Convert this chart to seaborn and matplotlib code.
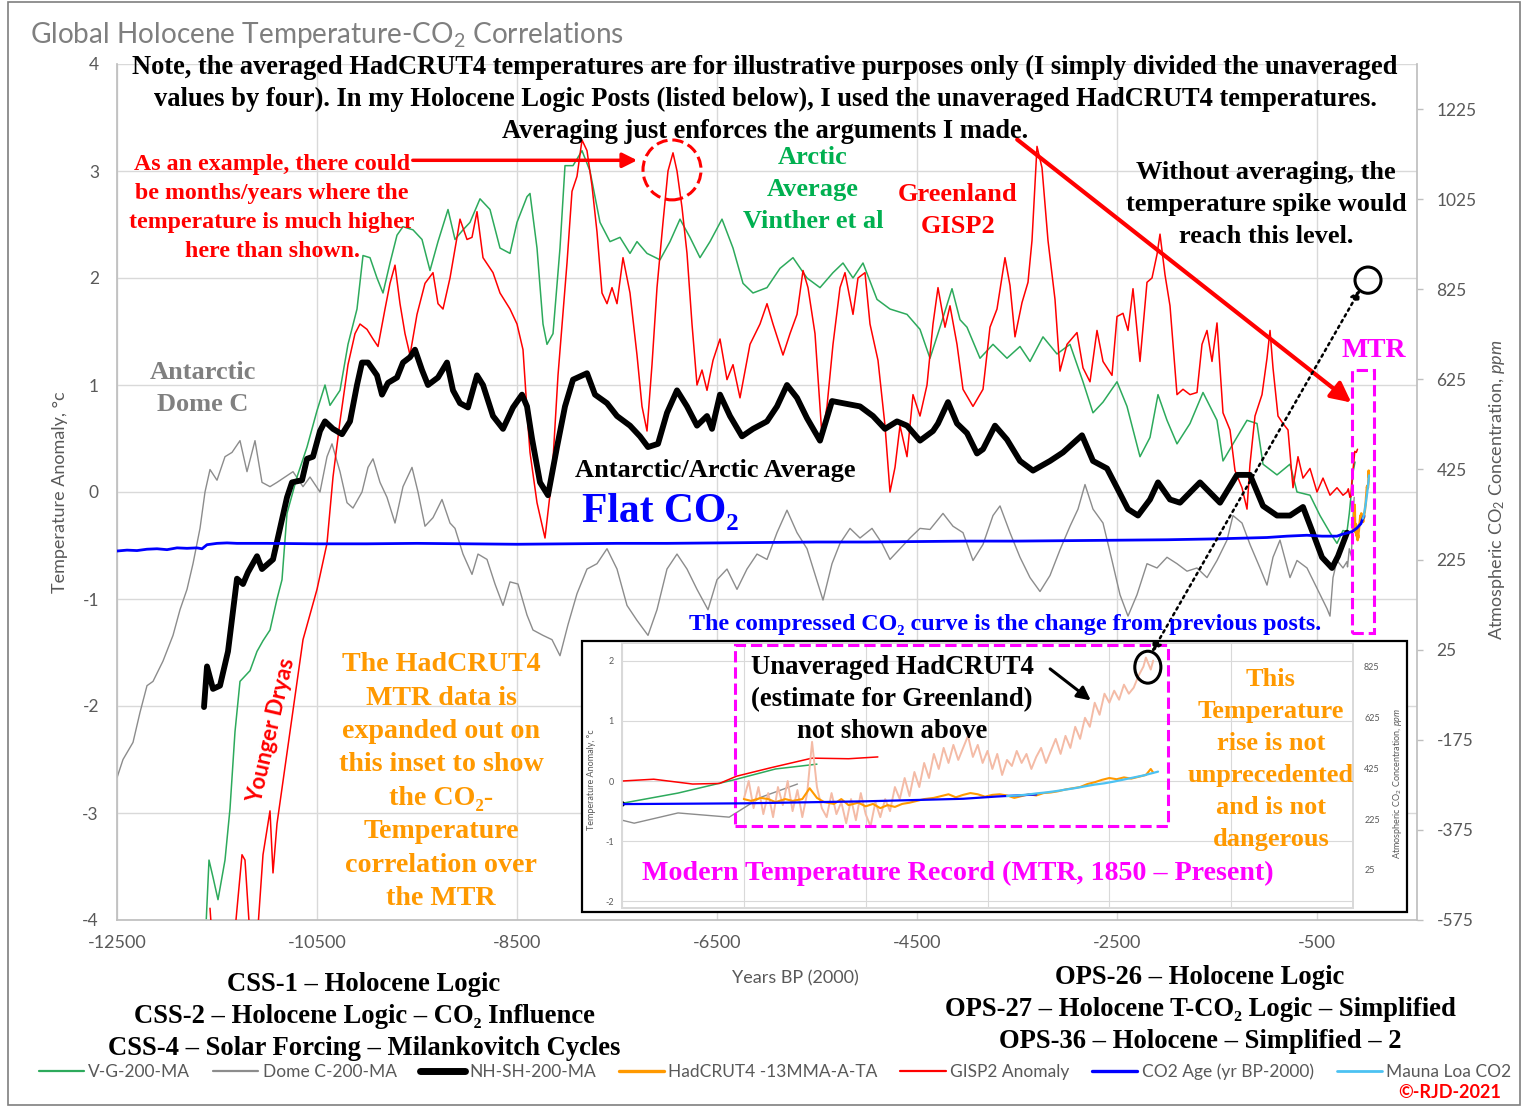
#Holocene temperature / CO2 chart with the MTR inset
import matplotlib
matplotlib.use('Agg')
import matplotlib.pyplot as plt
import numpy as np
import seaborn as sb
from matplotlib.lines import Line2D
from matplotlib.patches import Rectangle, Ellipse, ConnectionPatch

W, H = 1524, 1109

#Series: (years BP(2000), value)
vinther = [(-11610, -4.05), (-11580, -3.44), (-11540, -3.6), (-11490, -3.81), (-11420, -3.44), (-11370, -2.96),
           (-11320, -2.24), (-11270, -1.77), (-11170, -1.67), (-11100, -1.49), (-11040, -1.39), (-10970, -1.29),
           (-10900, -1.0), (-10850, -0.82), (-10800, -0.2), (-10700, 0.14), (-10600, 0.42), (-10500, 0.76),
           (-10420, 1.0), (-10370, 0.81), (-10270, 0.95), (-10190, 1.38), (-10100, 1.71), (-10040, 2.21),
           (-9970, 2.19), (-9900, 2.0), (-9840, 1.86), (-9770, 2.14), (-9700, 2.4), (-9640, 2.48), (-9540, 2.45),
           (-9450, 2.36), (-9370, 2.07), (-9290, 2.34), (-9190, 2.64), (-9120, 2.36), (-9040, 2.45), (-8970, 2.52),
           (-8870, 2.74), (-8770, 2.64), (-8670, 2.28), (-8570, 2.23), (-8500, 2.52), (-8400, 2.76), (-8370, 2.79),
           (-8300, 2.28), (-8240, 1.57), (-8200, 1.38), (-8140, 1.48), (-8070, 2.28), (-8020, 3.05), (-7940, 3.05),
           (-7850, 3.19), (-7770, 3.0), (-7670, 2.52), (-7570, 2.34), (-7470, 2.38), (-7370, 2.23), (-7300, 2.34),
           (-7200, 2.23), (-7070, 2.17), (-6970, 2.34), (-6870, 2.55), (-6770, 2.38), (-6670, 2.19), (-6570, 2.34),
           (-6450, 2.55), (-6340, 2.28), (-6240, 1.95), (-6140, 1.86), (-6000, 1.91), (-5870, 2.09), (-5740, 2.19),
           (-5600, 2.0), (-5470, 1.91), (-5340, 2.05), (-5240, 2.14), (-5140, 2.0), (-5040, 2.14), (-4900, 1.8),
           (-4770, 1.71), (-4600, 1.66), (-4470, 1.52), (-4370, 1.25), (-4270, 1.54), (-4150, 1.9), (-4070, 1.61),
           (-4000, 1.54), (-3870, 1.25), (-3740, 1.38), (-3600, 1.25), (-3470, 1.36), (-3370, 1.22), (-3240, 1.45),
           (-3100, 1.29), (-2970, 1.38), (-2840, 1.03), (-2740, 0.74), (-2640, 0.84), (-2500, 1.03), (-2400, 0.8),
           (-2270, 0.33), (-2170, 0.51), (-2090, 0.91), (-2000, 0.67), (-1900, 0.45), (-1770, 0.64), (-1640, 0.93),
           (-1500, 0.67), (-1440, 0.29), (-1340, 0.45), (-1200, 0.67), (-1100, 0.64), (-1040, 0.26), (-900, 0.16),
           (-770, 0.26), (-700, 0.0), (-570, -0.03), (-470, -0.22), (-370, -0.38), (-300, -0.48), (-240, -0.36),
           (-200, -0.37), (-177, -0.2), (-154, 0.02), (-137, 0.2), (-120, 0.28)]

domec = [(-12500, -2.67), (-12440, -2.5), (-12340, -2.34), (-12270, -2.06), (-12200, -1.81), (-12140, -1.77),
         (-12040, -1.58), (-11940, -1.34), (-11870, -1.1), (-11800, -0.91), (-11740, -0.67), (-11670, -0.34),
         (-11620, 0.0), (-11570, 0.21), (-11500, 0.11), (-11420, 0.33), (-11350, 0.37), (-11270, 0.48),
         (-11200, 0.19), (-11120, 0.48), (-11050, 0.09), (-10970, 0.05), (-10900, 0.09), (-10820, 0.14),
         (-10740, 0.19), (-10640, 0.05), (-10570, 0.14), (-10470, 0.0), (-10400, 0.33), (-10350, 0.45),
         (-10270, 0.19), (-10200, -0.1), (-10140, -0.15), (-10050, 0.0), (-9990, 0.23), (-9940, 0.31),
         (-9870, 0.09), (-9800, -0.05), (-9720, -0.29), (-9640, 0.05), (-9550, 0.23), (-9490, 0.0), (-9420, -0.32),
         (-9340, -0.24), (-9250, -0.07), (-9170, -0.29), (-9120, -0.34), (-9040, -0.58), (-8950, -0.77),
         (-8890, -0.58), (-8800, -0.63), (-8720, -0.86), (-8640, -1.06), (-8570, -0.84), (-8490, -0.86),
         (-8400, -1.15), (-8340, -1.29), (-8240, -1.34), (-8150, -1.38), (-8070, -1.53), (-7990, -1.24),
         (-7900, -0.95), (-7800, -0.72), (-7700, -0.67), (-7600, -0.53), (-7500, -0.72), (-7400, -1.06),
         (-7300, -1.2), (-7190, -1.34), (-7100, -1.1), (-7000, -0.72), (-6900, -0.58), (-6800, -0.72),
         (-6700, -0.91), (-6590, -1.1), (-6500, -0.82), (-6400, -0.72), (-6300, -0.91), (-6200, -0.72),
         (-6100, -0.58), (-6000, -0.63), (-5900, -0.38), (-5800, -0.17), (-5700, -0.38), (-5600, -0.53),
         (-5520, -0.77), (-5440, -1.01), (-5350, -0.67), (-5270, -0.48), (-5170, -0.34), (-5070, -0.43),
         (-4950, -0.34), (-4850, -0.48), (-4770, -0.63), (-4670, -0.53), (-4570, -0.43), (-4470, -0.34),
         (-4370, -0.35), (-4240, -0.2), (-4140, -0.32), (-4040, -0.38), (-3940, -0.64), (-3840, -0.49),
         (-3740, -0.22), (-3670, -0.13), (-3570, -0.38), (-3470, -0.61), (-3370, -0.8), (-3270, -0.93),
         (-3170, -0.78), (-3070, -0.54), (-2970, -0.32), (-2890, -0.16), (-2820, 0.07), (-2740, -0.16),
         (-2640, -0.29), (-2550, -0.64), (-2470, -0.96), (-2390, -1.16), (-2300, -0.96), (-2200, -0.67),
         (-2100, -0.71), (-2000, -0.61), (-1900, -0.67), (-1800, -0.74), (-1700, -0.71), (-1600, -0.8),
         (-1500, -0.64), (-1400, -0.45), (-1340, -0.22), (-1250, -0.29), (-1170, -0.49), (-1070, -0.71),
         (-1000, -0.87), (-940, -0.61), (-870, -0.45), (-770, -0.8), (-700, -0.64), (-600, -0.71), (-500, -0.9),
         (-400, -1.09), (-370, -1.16), (-340, -0.8), (-300, -0.64), (-240, -0.71), (-200, -0.65), (-195, -0.7),
         (-177, -0.53), (-156, -0.6), (-143, -0.27), (-128, -0.05)]

nhsh = [(-11630, -2.01), (-11600, -1.63), (-11540, -1.84), (-11470, -1.81), (-11390, -1.49), (-11300, -0.81),
        (-11240, -0.86), (-11190, -0.75), (-11100, -0.6), (-11050, -0.72), (-10940, -0.63), (-10870, -0.34),
        (-10800, -0.05), (-10750, 0.09), (-10650, 0.11), (-10600, 0.31), (-10540, 0.33), (-10470, 0.57),
        (-10420, 0.66), (-10340, 0.59), (-10250, 0.54), (-10170, 0.66), (-10100, 1.0), (-10050, 1.21),
        (-9990, 1.21), (-9900, 1.09), (-9850, 0.91), (-9790, 1.02), (-9700, 1.07), (-9640, 1.21), (-9570, 1.26),
        (-9520, 1.33), (-9450, 1.14), (-9390, 1.0), (-9290, 1.07), (-9200, 1.21), (-9140, 0.95), (-9070, 0.83),
        (-8990, 0.79), (-8900, 1.09), (-8840, 1.0), (-8740, 0.71), (-8640, 0.59), (-8540, 0.79), (-8450, 0.91),
        (-8400, 0.8), (-8350, 0.5), (-8270, 0.09), (-8190, -0.03), (-8100, 0.42), (-8020, 0.8), (-7940, 1.05),
        (-7800, 1.11), (-7720, 0.91), (-7600, 0.83), (-7500, 0.71), (-7370, 0.62), (-7270, 0.52), (-7190, 0.42),
        (-7090, 0.45), (-7000, 0.74), (-6900, 0.95), (-6800, 0.8), (-6700, 0.62), (-6600, 0.71), (-6550, 0.59),
        (-6470, 0.91), (-6370, 0.71), (-6250, 0.52), (-6140, 0.59), (-6000, 0.66), (-5900, 0.8), (-5800, 1.0),
        (-5700, 0.88), (-5600, 0.69), (-5470, 0.48), (-5350, 0.85), (-5240, 0.83), (-5070, 0.8), (-4940, 0.71),
        (-4820, 0.59), (-4700, 0.66), (-4600, 0.62), (-4470, 0.48), (-4340, 0.57), (-4290, 0.64), (-4190, 0.84),
        (-4100, 0.64), (-4000, 0.55), (-3900, 0.36), (-3840, 0.4), (-3720, 0.62), (-3600, 0.49), (-3470, 0.29),
        (-3340, 0.2), (-3170, 0.29), (-3040, 0.37), (-2850, 0.53), (-2740, 0.29), (-2600, 0.22), (-2500, 0.04),
        (-2390, -0.16), (-2290, -0.22), (-2170, -0.07), (-2090, 0.09), (-1970, -0.07), (-1870, -0.1),
        (-1670, 0.09), (-1470, -0.1), (-1300, 0.16), (-1170, 0.16), (-1040, -0.13), (-900, -0.22), (-770, -0.22),
        (-640, -0.14), (-550, -0.36), (-450, -0.61), (-350, -0.71), (-290, -0.6), (-200, -0.38)]

gisp2 = [(-11570, -3.89), (-11540, -4.3), (-11480, -4.4), (-11420, -4.3), (-11330, -4.2), (-11250, -3.39),
         (-11220, -3.44), (-11190, -3.87), (-11160, -4.3), (-11100, -4.2), (-11040, -3.39), (-10970, -2.98),
         (-10940, -3.56), (-10900, -3.1), (-10770, -2.24), (-10640, -1.38), (-10500, -0.91), (-10400, -0.48),
         (-10340, 0.14), (-10270, 0.66), (-10190, 1.19), (-10120, 1.48), (-10070, 1.57), (-10000, 1.52),
         (-9940, 1.43), (-9890, 1.36), (-9820, 1.71), (-9770, 1.95), (-9720, 2.12), (-9670, 1.76), (-9620, 1.48),
         (-9570, 1.28), (-9500, 1.66), (-9420, 1.95), (-9340, 2.05), (-9290, 1.76), (-9240, 1.71), (-9170, 2.0),
         (-9100, 2.38), (-9070, 2.55), (-9000, 2.36), (-8950, 2.38), (-8900, 2.62), (-8840, 2.19), (-8740, 2.05),
         (-8670, 1.86), (-8570, 1.71), (-8500, 1.57), (-8440, 1.33), (-8390, 0.62), (-8370, 0.37), (-8300, -0.1),
         (-8220, -0.43), (-8150, 0.14), (-8090, 1.09), (-8000, 2.14), (-7950, 2.81), (-7900, 2.95), (-7850, 3.29),
         (-7800, 3.19), (-7750, 2.86), (-7700, 2.43), (-7650, 1.86), (-7600, 1.76), (-7550, 1.91), (-7500, 1.76),
         (-7440, 2.19), (-7370, 1.86), (-7300, 1.28), (-7250, 0.8), (-7200, 0.57), (-7150, 1.19), (-7100, 1.91),
         (-7040, 2.52), (-6990, 3.0), (-6940, 3.17), (-6900, 3.0), (-6850, 2.66), (-6800, 2.23), (-6750, 1.57),
         (-6700, 1.0), (-6650, 1.14), (-6600, 0.95), (-6540, 1.23), (-6470, 1.43), (-6400, 1.05), (-6340, 1.19),
         (-6270, 0.88), (-6170, 1.38), (-6070, 1.57), (-6000, 1.76), (-5940, 1.57), (-5840, 1.28), (-5770, 1.48),
         (-5700, 1.66), (-5640, 2.07), (-5590, 1.91), (-5520, 1.48), (-5450, 0.52), (-5400, 0.8), (-5340, 1.38),
         (-5270, 1.91), (-5220, 2.05), (-5140, 1.66), (-5090, 2.0), (-5020, 2.05), (-4970, 1.57), (-4890, 1.23),
         (-4820, 0.62), (-4770, 0.0), (-4720, 0.23), (-4670, 0.62), (-4600, 0.33), (-4540, 0.91), (-4470, 0.71),
         (-4400, 1.0), (-4340, 1.57), (-4290, 1.91), (-4220, 1.54), (-4170, 1.74), (-4100, 1.38), (-4040, 0.96),
         (-3940, 0.8), (-3840, 0.96), (-3770, 1.54), (-3700, 1.71), (-3620, 2.19), (-3570, 1.93), (-3520, 1.45),
         (-3450, 1.77), (-3390, 1.96), (-3350, 2.35), (-3300, 3.23), (-3250, 3.03), (-3190, 2.35), (-3120, 1.8),
         (-3070, 1.13), (-3000, 1.38), (-2900, 1.49), (-2840, 1.16), (-2770, 1.03), (-2700, 1.51), (-2640, 1.22),
         (-2550, 1.09), (-2500, 1.64), (-2440, 1.67), (-2390, 1.51), (-2340, 1.9), (-2270, 1.22), (-2200, 1.96),
         (-2150, 2.0), (-2100, 2.22), (-2070, 2.41), (-2020, 2.03), (-1970, 1.74), (-1900, 0.91), (-1840, 0.96),
         (-1770, 0.91), (-1700, 0.93), (-1650, 1.38), (-1600, 1.51), (-1550, 1.22), (-1500, 1.58), (-1440, 0.74),
         (-1370, 0.58), (-1320, 0.2), (-1250, 0.04), (-1200, -0.16), (-1170, 0.26), (-1120, 0.71), (-1050, 0.91),
         (-1000, 1.25), (-970, 1.51), (-940, 1.16), (-890, 0.71), (-840, 0.64), (-790, 0.58), (-740, 0.04),
         (-690, 0.33), (-640, 0.13), (-570, 0.22), (-500, 0.0), (-440, 0.13), (-370, -0.03), (-300, 0.04),
         (-240, -0.03), (-200, 0.0), (-187, 0.03), (-171, -0.05), (-160, -0.04), (-153, 0.08), (-139, 0.22),
         (-122, 0.38), (-107, 0.37), (-95, 0.4)]

hadcrut_avg = [(-150, -0.3), (-147, -0.33), (-143, -0.28), (-140, -0.3), (-137, -0.35), (-133, -0.3), (-130, -0.33),
               (-126, -0.3), (-123, -0.12), (-120, -0.28), (-117, -0.35), (-113, -0.38), (-110, -0.3), (-107, -0.4),
               (-103, -0.36), (-100, -0.42), (-97, -0.38), (-94, -0.45), (-91, -0.4), (-88, -0.43), (-85, -0.38),
               (-82, -0.36), (-79, -0.33), (-76, -0.3), (-72, -0.28), (-69, -0.25), (-66, -0.22), (-63, -0.27),
               (-60, -0.23), (-57, -0.2), (-54, -0.22), (-51, -0.26), (-48, -0.23), (-45, -0.22), (-42, -0.24),
               (-39, -0.28), (-36, -0.25), (-33, -0.22), (-30, -0.24), (-27, -0.2), (-24, -0.19), (-21, -0.17),
               (-18, -0.14), (-15, -0.12), (-12, -0.1), (-9, -0.05), (-6, -0.02), (-3, 0.02), (0, 0.05), (3, 0.03),
               (6, 0.06), (9, 0.04), (12, 0.07), (15, 0.1), (17, 0.2), (18, 0.14)]

hadcrut_raw = [(-150, -0.3), (-148, 0.0), (-146, -0.45), (-144, -0.1), (-142, -0.55), (-140, -0.2), (-138, -0.6),
               (-136, -0.1), (-134, -0.4), (-132, 0.0), (-130, -0.5), (-128, -0.15), (-126, -0.6), (-124, -0.2),
               (-122, 0.65), (-120, -0.1), (-118, -0.45), (-116, -0.6), (-114, -0.2), (-112, -0.55), (-110, -0.35),
               (-108, -0.7), (-106, -0.3), (-104, -0.65), (-102, -0.2), (-100, -0.55), (-98, -0.75), (-96, -0.35),
               (-94, -0.6), (-92, -0.3), (-90, -0.5), (-88, -0.1), (-86, -0.3), (-84, 0.05), (-82, -0.25),
               (-80, 0.15), (-78, -0.1), (-76, 0.3), (-74, 0.05), (-72, 0.45), (-70, 0.2), (-68, 0.55), (-66, 0.3),
               (-64, 0.6), (-62, 0.35), (-60, 0.55), (-58, 0.75), (-56, 0.4), (-54, 0.6), (-52, 0.3), (-50, 0.5),
               (-48, 0.2), (-46, 0.45), (-44, 0.1), (-42, 0.35), (-40, 0.25), (-38, 0.5), (-36, 0.3), (-34, 0.45),
               (-32, 0.2), (-30, 0.4), (-28, 0.55), (-26, 0.3), (-24, 0.5), (-22, 0.7), (-20, 0.45), (-18, 0.75),
               (-16, 0.55), (-14, 0.9), (-12, 0.7), (-10, 1.05), (-8, 0.9), (-6, 1.3), (-4, 1.1), (-2, 1.45),
               (0, 1.3), (2, 1.5), (4, 1.35), (6, 1.6), (8, 1.45), (10, 1.55), (12, 1.75), (14, 1.9), (15, 2.05),
               (17, 1.85), (18, 2.0)]

co2_age = [(-12500, 244), (-12400, 246), (-12300, 245), (-12200, 248), (-12100, 249), (-12000, 247), (-11900, 251),
           (-11800, 250), (-11700, 251), (-11650, 249), (-11600, 258), (-11500, 261), (-11400, 262), (-11300, 261),
           (-11000, 261), (-10500, 260), (-10000, 260), (-9500, 261), (-9000, 260), (-8500, 259), (-8000, 260),
           (-7500, 261), (-7000, 261), (-6500, 262), (-6000, 263), (-5500, 264), (-5000, 264), (-4500, 265),
           (-4000, 266), (-3500, 266), (-3000, 267), (-2500, 268), (-2000, 269), (-1500, 271), (-1000, 274),
           (-800, 277), (-600, 279), (-450, 277), (-300, 277), (-250, 281), (-200, 284), (-150, 287), (-100, 295),
           (-60, 305), (-46, 314), (-30, 322)]

mauna_loa = [(-42, 316), (-38, 318), (-34, 321), (-30, 326), (-26, 330), (-22, 335), (-18, 341), (-14, 347),
             (-10, 354), (-6, 361), (-2, 366), (2, 373), (6, 381), (10, 389), (14, 397), (18, 407), (20, 412)]

legend_labels = ['V-G-200-MA', 'Dome C-200-MA', 'NH-SH-200-MA', 'HadCRUT4 -13MMA-A-TA',
                 'GISP2 Anomaly', 'CO2 Age (yr BP-2000)', 'Mauna Loa CO2']
temp_ticks = [-4, -3, -2, -1, 0, 1, 2, 3, 4]
co2_ticks = [-575, -375, -175, 25, 225, 425, 625, 825, 1025, 1225]

C_GREEN, C_GRAY, C_RED = '#2DAA5C', '#8C8C8C', '#FF0000'
C_ORANGE, C_BLUE, C_LBLUE, C_SALMON = '#FF9900', '#0000FF', '#4CC2F2', '#F4BBA6'
TXT = '#595959'
SERIF = ['Liberation Serif', 'DejaVu Serif']

sb.set_theme(style='whitegrid')
plt.rcParams['font.family'] = ['Lato', 'DejaVu Sans']
plt.rcParams['axes.unicode_minus'] = False
plt.rcParams['mathtext.fontset'] = 'custom'
plt.rcParams['mathtext.rm'] = 'Lato'
plt.rcParams['mathtext.it'] = 'Lato:italic'
plt.rcParams['mathtext.bf'] = 'Lato:bold'

def xy(pairs):
    a = np.array(pairs, dtype=float)
    return a[:, 0], a[:, 1]

# ppm = 375 + 237.5 * temperature keeps both axes lined up
def to_ppm(t):
    return 375 + 237.5 * t

def draw_series(axt, axc, main=True):
    for data, col, lw, z in [(domec, C_GRAY, 1.0, 1), (vinther, C_GREEN, 1.1, 2), (gisp2, C_RED, 1.1, 3)]:
        x, y = xy(data)
        sb.lineplot(x=x, y=y, ax=axt, color=col, lw=lw, zorder=z, legend=False)
    if not main:
        x, y = xy(hadcrut_raw)
        sb.lineplot(x=x, y=y, ax=axt, color=C_SALMON, lw=1.4, zorder=4, legend=False)
    x, y = xy(nhsh)
    sb.lineplot(x=x, y=y, ax=axt, color='black', lw=4.2, zorder=5, legend=False)
    x, y = xy(hadcrut_avg)
    sb.lineplot(x=x, y=y, ax=axt, color=C_ORANGE, lw=1.8 if main else 1.5, zorder=6, legend=False)
    x, y = xy(co2_age)
    sb.lineplot(x=x, y=y, ax=axc, color=C_BLUE, lw=2.0 if main else 1.6, zorder=2, legend=False)
    x, y = xy(mauna_loa)
    sb.lineplot(x=x, y=y, ax=axc, color=C_LBLUE, lw=1.6, zorder=3, legend=False)

fig = plt.figure(figsize=(W / 100, H / 100), dpi=100)

#Main chart
ax = fig.add_axes([117 / W, 1 - 920 / H, 1300 / W, 856 / H])
ax2 = ax.twinx()
ax.set_zorder(0)
ax2.set_zorder(0.1)
draw_series(ax, ax2, main=True)
ax.set_xlim(-12500, 500)
ax.set_ylim(-4, 4)
ax2.set_ylim(to_ppm(-4), to_ppm(4))
ax.set_xticks(np.arange(-12500, 0, 2000))
ax.set_yticks(temp_ticks)
ax2.set_yticks(co2_ticks)
ax.grid(True, color='#D9D9D9', lw=1)
ax2.grid(False)
ax.set_xlabel('')
ax.set_ylabel('')
ax.tick_params(axis='x', length=0, labelsize=13, labelcolor=TXT, pad=11)
ax.tick_params(axis='y', length=0, labelsize=12.5, labelcolor=TXT, pad=13)
ax2.tick_params(axis='y', length=4, width=1, color='#BFBFBF', direction='out', labelsize=12.5,
                labelcolor=TXT, pad=10)
for s in ['top', 'right']:
    ax.spines[s].set_visible(False)
for s in ['left', 'bottom']:
    ax.spines[s].set_color('#BFBFBF')
for s in ['top', 'left', 'bottom']:
    ax2.spines[s].set_visible(False)
ax2.spines['right'].set_color('#BFBFBF')

#Inset with the modern record
box = Rectangle((582 / W, 1 - 912 / H), 825 / W, 271 / H, transform=fig.transFigure,
                facecolor='white', edgecolor='black', lw=1.6, zorder=1.5)
fig.add_artist(box)
axi = fig.add_axes([622 / W, 1 - 907.5 / H, 731 / W, 265 / H])
axi.set_zorder(2)
axi2 = axi.twinx()
axi2.set_zorder(2.1)
draw_series(axi, axi2, main=False)
axi.set_xlim(-200, 100)
axi.set_ylim(-2.1, 2.3)
axi2.set_ylim(to_ppm(-2.1), to_ppm(2.3))
axi.set_xticks(np.arange(-200, 101, 50))
axi.set_xticklabels([])
axi.set_yticks([-2, -1, 0, 1, 2])
axi2.set_yticks([25, 225, 425, 625, 825])
axi.grid(True, color='#D9D9D9', lw=0.8)
axi2.grid(False)
axi.set_ylabel('')
axi.tick_params(axis='both', length=0, labelsize=6.5, labelcolor=TXT, pad=6)
axi2.tick_params(axis='y', length=0, labelsize=6.5, labelcolor=TXT, pad=8)
for a in (axi, axi2):
    for s in a.spines.values():
        s.set_color('#D9D9D9')

#Marks tied to the data
gx, gy = xy(gisp2)
win = (gx > -7100) & (gx < -6800)
spike_x, spike_y = gx[win][np.argmax(gy[win])], gy[win].max()
rx, ry = xy(hadcrut_raw)
peak_x, peak_y = rx[np.argmax(ry)], ry.max()

ax.add_patch(Ellipse((spike_x - 10, spike_y - 0.16), 580, 0.56, fill=False, ec=C_RED, ls='--', lw=2.2, zorder=8))
ax.annotate('', xy=(spike_x - 330, 3.1), xytext=(-9570, 3.1),
            arrowprops=dict(arrowstyle='-|>', color=C_RED, lw=2.5, mutation_scale=22), zorder=8)
ax.annotate('', xy=(-135, 0.82), xytext=(-3520, 3.31), annotation_clip=False,
            arrowprops=dict(arrowstyle='-|>', color=C_RED, lw=3, mutation_scale=30), zorder=8)
ax.add_patch(Ellipse((peak_x - 5, peak_y - 0.07), 260, 0.245, fill=False, ec='black', lw=2.2,
                     zorder=8, clip_on=False))
ax.add_patch(Rectangle((-150, -1.32), 220, 2.46, fill=False, ec='#FF00FF', ls='--', lw=2.2,
                       zorder=8, clip_on=False))
axi.add_patch(Ellipse((peak_x + 0.8, peak_y - 0.16), 10.7, 0.53, fill=False, ec='black', lw=2.2,
                      zorder=8, clip_on=False))
axi.add_patch(Rectangle((-153.6, -0.75), 177.6, 3.01, fill=False, ec='#FF00FF', ls='--', lw=2.2,
                        zorder=8, clip_on=False))
axi.annotate('', xy=(-6.7, 1.31), xytext=(-25.2, 1.89),
             arrowprops=dict(arrowstyle='-|>', color='black', lw=2.2, mutation_scale=20), zorder=8)
con = ConnectionPatch(xyA=(peak_x + 2.5, 2.14), coordsA=axi.transData, xyB=(-70, 1.89), coordsB=ax.transData,
                      arrowstyle='<|-|>', ls=':', lw=1.8, color='black', mutation_scale=14, zorder=9)
fig.add_artist(con)

#Text
def put(x, y, s, **kw):
    return fig.text(x / W, 1 - y / H, s, **kw)

def rows(x, y0, step, lines, color='black', size=19):
    base = 0.33 * size / 0.72
    for i, s in enumerate(lines):
        put(x, y0 + i * step + base, s, color=color, fontsize=size, family=SERIF, fontweight='bold',
            ha='center', va='baseline', zorder=10)

put(30, 35, r'Global Holocene Temperature-CO$_2$ Correlations', fontsize=20.2, color='#7F7F7F', va='center')
rows(765, 65, 32, ['Note, the averaged HadCRUT4 temperatures are for illustrative purposes only (I simply divided the unaveraged',
                   'values by four). In my Holocene Logic Posts (listed below), I used the unaveraged HadCRUT4 temperatures.',
                   'Averaging just enforces the arguments I made.'], size=19.1)
rows(272, 162, 29, ['As an example, there could', 'be months/years where the', 'temperature is much higher',
                    'here than shown.'], color=C_RED, size=17.2)
rows(813, 155, 32, ['Arctic', 'Average', 'Vinther et al'], color='#00B050')
rows(958, 192, 32, ['Greenland', 'GISP2'], color=C_RED)
rows(1266, 170, 32, ['Without averaging, the', 'temperature spike would', 'reach this level.'])
rows(1374, 348, 0, ['MTR'], color='#FF00FF', size=20)
rows(203, 370, 32, ['Antarctic', 'Dome C'], color='#808080')
rows(715, 468, 0, ['Antarctic/Arctic Average'])
rows(660, 508, 0, ['Flat CO₂'], color=C_BLUE, size=30)
rows(1005, 622, 0, ['The compressed CO₂ curve is the change from previous posts.'], color=C_BLUE, size=17.3)
rows(441, 662, 33.4, ['The HadCRUT4', 'MTR data is', 'expanded out on', 'this inset to show', 'the CO₂-',
                      'Temperature', 'correlation over', 'the MTR'], color=C_ORANGE, size=20.2)
rows(892, 665, 32, ['Unaveraged HadCRUT4', '(estimate for Greenland)', 'not shown above'], size=19.3)
rows(1271, 677, 32, ['This', 'Temperature', 'rise is not', 'unprecedented', 'and is not', 'dangerous'],
     color=C_ORANGE)
rows(958, 871, 0, ['Modern Temperature Record (MTR, 1850 – Present)'], color='#FF00FF', size=20.2)
rows(364, 982, 32, ['CSS-1 – Holocene Logic', 'CSS-2 – Holocene Logic – CO₂ Influence',
                    'CSS-4 – Solar Forcing – Milankovitch Cycles'], size=19.2)
rows(1200, 975, 32, ['OPS-26 – Holocene Logic', 'OPS-27 – Holocene T-CO₂ Logic – Simplified',
                     'OPS-36 – Holocene – Simplified – 2'], size=19.2)
put(272, 730, 'Younger Dryas', rotation=77, color=C_RED, fontsize=16, fontweight='bold',
    ha='center', va='center', zorder=10)

put(60, 492, 'Temperature Anomaly, °c', rotation=90, fontsize=13, color=TXT, ha='center', va='center')
put(1497, 490, r'Atmospheric CO$_2$ Concentration, $\mathit{ppm}$', rotation=90, fontsize=13, color=TXT,
    ha='center', va='center')
put(795, 978, 'Years BP (2000)', fontsize=13, color=TXT, ha='center', va='center')
put(591, 780, 'Temperature Anomaly, °c', rotation=90, fontsize=6.5, color=TXT, ha='center', va='center')
put(1398, 783, r'Atmospheric CO$_2$ Concentration, $\mathit{ppm}$', rotation=90, fontsize=6.5, color=TXT,
    ha='center', va='center')
put(1450, 1093, '©-RJD-2021', fontsize=13, color=C_RED, fontweight='bold', ha='center', va='center')

#Legend
handles = [Line2D([], [], color=C_GREEN, lw=1.6), Line2D([], [], color=C_GRAY, lw=1.6),
           Line2D([], [], color='black', lw=5), Line2D([], [], color=C_ORANGE, lw=2.4),
           Line2D([], [], color=C_RED, lw=1.6), Line2D([], [], color=C_BLUE, lw=2.4),
           Line2D([], [], color=C_LBLUE, lw=2)]
leg = fig.legend(handles, legend_labels, loc='center', bbox_to_anchor=(775 / W, 1 - 1072 / H), ncol=7,
                 frameon=False, fontsize=12.5, handlelength=2.6, handletextpad=0.25, columnspacing=1.32)
for t in leg.get_texts():
    t.set_color(TXT)

fig.add_artist(Rectangle((8 / W, 1 - 1105 / H), 1512 / W, 1103 / H, transform=fig.transFigure,
                         fill=False, ec='#7F7F7F', lw=1.2))

plt.savefig('out.png', dpi=100)
